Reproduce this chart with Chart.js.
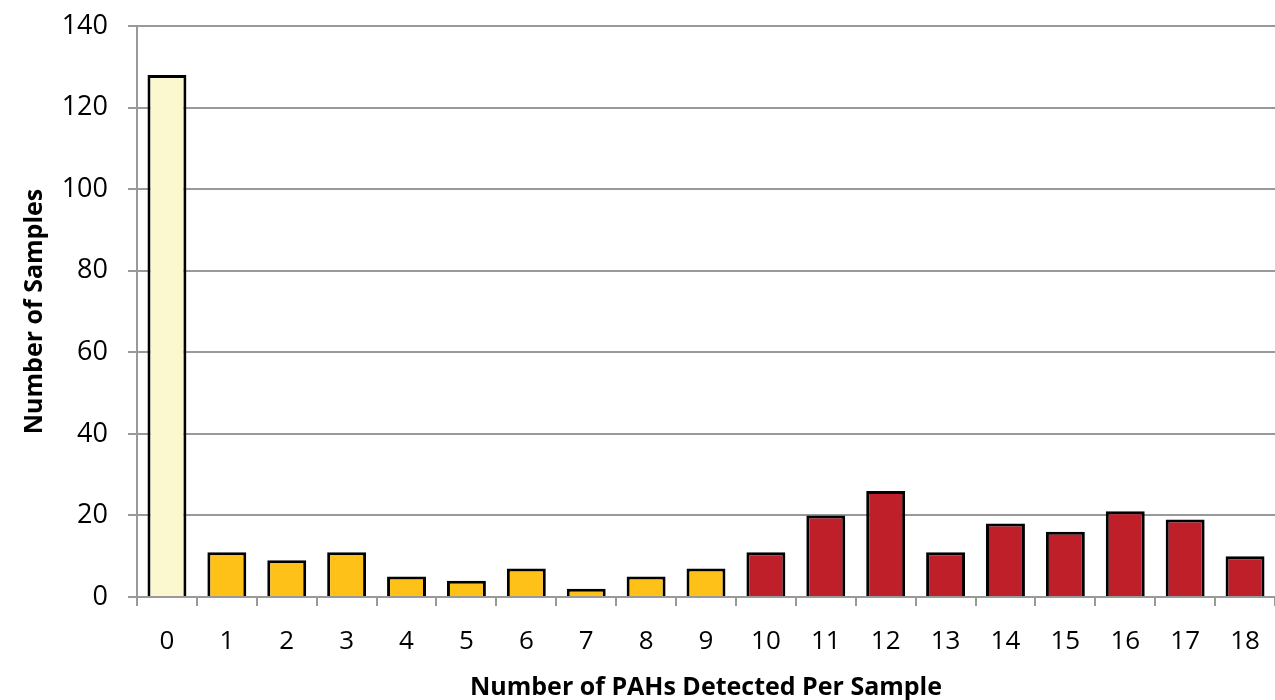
<!DOCTYPE html>
<html>
<head>
<meta charset="utf-8">
<script src="https://cdn.jsdelivr.net/npm/chart.js@4"></script>
<style>
  html, body { margin: 0; padding: 0; background: #fff; }
  #wrap { width: 1275px; height: 700px; }
</style>
</head>
<body>
<div id="wrap"><canvas id="grafico" width="1275" height="700"></canvas></div>
<script>
// dados
var categorias = ['0','1','2','3','4','5','6','7','8','9','10','11','12','13','14','15','16','17','18']
var amostras = [128, 11, 9, 11, 5, 4, 7, 2, 5, 7, 11, 20, 26, 11, 18, 16, 21, 19, 10]
var ticksY = [0, 20, 40, 60, 80, 100, 120, 140]

// cores por grupo: nenhum, poucos, muitos
function corBarra(i) {
    if (i == 0) return '#FBF8D0'
    if (i <= 9) return '#FDC117'
    return '#BE1F28'
}
var cores = categorias.map((c, i) => corBarra(i))

var fonte = '"Open Sans", "Noto Sans", sans-serif'

const ctx = document.getElementById('grafico').getContext('2d')
const grafico = new Chart(ctx, {
  type: 'bar',
  data: {
      labels: categorias,
      datasets: [{
          data: amostras,
          backgroundColor: cores,
          borderColor: '#000',
          borderWidth: 3,
          borderSkipped: 'bottom',
          barPercentage: 0.65,
          categoryPercentage: 1
      }]
  },
  options: {
      responsive: false,
      animation: false,
      layout: { padding: { top: 26, right: 0, left: 16, bottom: 0 } },
      plugins: { legend: { display: false }, tooltip: { enabled: false } },
      scales: {
          x: {
              grid: { display: true, drawOnChartArea: false, drawTicks: true, tickLength: 9, color: '#999', lineWidth: 2, offset: true },
              border: { color: '#999', width: 2 },
              ticks: { color: '#000', font: { family: fonte, size: 26 }, padding: 20 },
              title: { display: true, text: 'Number of PAHs Detected Per Sample', color: '#000', font: { family: fonte, size: 25, weight: 'bold' }, padding: { top: 6, bottom: -3 } },
              afterFit: (s) => { s.height = 103; s.paddingRight = 0; s.paddingLeft = 0 }
          },
          y: {
              min: 0,
              max: 140,
              afterBuildTicks: (s) => { s.ticks = ticksY.map(v => ({ value: v })) },
              grid: { color: '#999', lineWidth: 2, tickLength: 9 },
              border: { color: '#999', width: 2 },
              ticks: { color: '#000', font: { family: fonte, size: 27 }, padding: 20 },
              title: { display: true, text: 'Number of Samples', color: '#000', font: { family: fonte, size: 25, weight: 'bold' }, padding: { bottom: 4 } },
              afterFit: (s) => { s.width = 121; s.paddingTop = 0; s.paddingBottom = 0 }
          }
      }
  }
})
</script>
</body>
</html>
